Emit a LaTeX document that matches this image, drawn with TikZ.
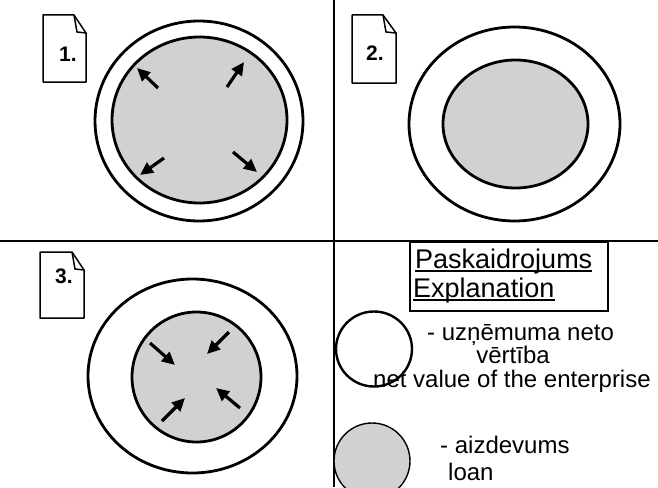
\documentclass[tikz,border=0pt]{standalone}
\usepackage{fontspec}
\setmainfont{Liberation Sans}
\usetikzlibrary{arrows.meta}
\tikzset{
  divider/.style={line width=2.2pt},
  ring/.style={line width=2.8pt},
  loanfill/.style={fill=black!18},
  tag/.style={line width=1.5pt, line join=round},
  taglabel/.style={font=\fontsize{21}{23}\selectfont\bfseries, inner sep=0pt, anchor=base},
  flow/.style={line width=3.2pt, -{Triangle[length=13pt,width=12pt]}},
  legtext/.style={font=\fontsize{24}{28}\selectfont, inner sep=0pt, anchor=base west},
  headtext/.style={font=\fontsize{27}{30}\selectfont, inner sep=0pt, anchor=base west},
}
\begin{document}
\begin{tikzpicture}[x=1pt,y=-1pt]
\useasboundingbox (0,0) rectangle (658,487);
% dividers
\draw[divider] (0,241) -- (658,241);
\draw[divider] (334,0) -- (334,487);

% ---------- panel 1 ----------
\draw[tag] (43,15) -- (74,15) -- (86,33) -- (86,82) -- (43,82) -- cycle;
\draw[tag] (74,15) -- (77,32) -- (86,33);
\node[taglabel] (t1) at (68,61) {1.};
\draw[ring] (199,121) ellipse [x radius=104, y radius=100];
\draw[ring, loanfill] (199.5,120) ellipse [x radius=87.5, y radius=83];
\coordinate (a1s) at (158,88);  \coordinate (a1e) at (137,68);
\coordinate (a2s) at (227,87);  \coordinate (a2e) at (244,62);
\coordinate (a3s) at (164,158); \coordinate (a3e) at (140,175);
\coordinate (a4s) at (233,152); \coordinate (a4e) at (257,172);
\draw[flow] (a1s) -- (a1e);
\draw[flow] (a2s) -- (a2e);
\draw[flow] (a3s) -- (a3e);
\draw[flow] (a4s) -- (a4e);

% ---------- panel 2 ----------
\draw[tag] (352,15) -- (383,15) -- (396,33) -- (396,83) -- (352,83) -- cycle;
\draw[tag] (383,15) -- (386,32) -- (396,33);
\node[taglabel] (t2) at (375,60) {2.};
\draw[ring] (514.5,124) ellipse [x radius=105.5, y radius=97];
\draw[ring, loanfill] (515.5,124) ellipse [x radius=72.5, y radius=64];

% ---------- panel 3 ----------
\draw[tag] (40,252) -- (72,252) -- (84,270) -- (84,318) -- (40,318) -- cycle;
\draw[tag] (72,252) -- (75,269) -- (84,270);
\node[taglabel] (t3) at (64,283) {3.};
\draw[ring] (192.5,376) ellipse [x radius=104.5, y radius=97];
\draw[ring, loanfill] (196.5,377) ellipse [x radius=64.5, y radius=65];
\coordinate (b1s) at (150,343); \coordinate (b1e) at (175,365);
\coordinate (b2s) at (229,332); \coordinate (b2e) at (207,354);
\coordinate (b3s) at (162,421); \coordinate (b3e) at (185,398);
\coordinate (b4s) at (240,408); \coordinate (b4e) at (216,388);
\draw[flow] (b1s) -- (b1e);
\draw[flow] (b2s) -- (b2e);
\draw[flow] (b3s) -- (b3e);
\draw[flow] (b4s) -- (b4e);

% ---------- legend ----------
\draw[line width=1.2pt] (410,242) rectangle (608,311);
\node[headtext] (h1) at (415,268) {Paskaidrojums};
\node[headtext] (h2) at (413,297) {Explanation};
\draw[line width=1.3pt] ([yshift=-3pt]h1.base west) -- ([yshift=-3pt]h1.base east);
\draw[line width=1.3pt] ([yshift=-3pt]h2.base west) -- ([yshift=-3pt]h2.base east);

\draw[line width=2.4pt] (374,349) ellipse [x radius=38, y radius=37.5];
\node[legtext] (l1) at (427,340) {- uzņēmuma neto};
\node[legtext, anchor=base] (l2) at (513,363) {vērtība};
\node[legtext] (l3) at (373,387) {net value of the enterprise};

\begin{scope}
\clip (0,0) rectangle (658,487);
\draw[line width=1.4pt, loanfill] (372,461) ellipse [x radius=38, y radius=38];
\end{scope}
\node[legtext] (l4) at (440,453) {- aizdevums};
\node[legtext] (l5) at (448,480) {loan};
\end{tikzpicture}
\end{document}
